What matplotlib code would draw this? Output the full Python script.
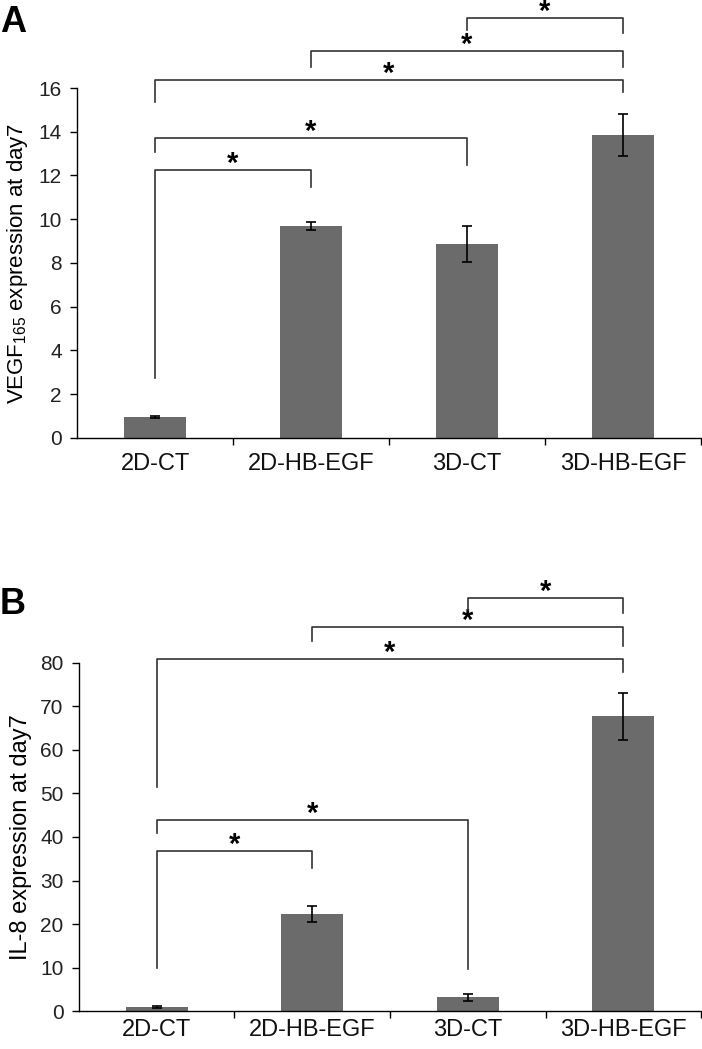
import numpy as np
import matplotlib
matplotlib.use('Agg')
import matplotlib.pyplot as plt

plt.rcParams['font.family'] = ['Liberation Sans', 'DejaVu Sans']

groups = ['2D-CT', '2D-HB-EGF', '3D-CT', '3D-HB-EGF']

vegf = [0.96, 9.70, 8.87, 13.85]
vegf_err = [0.04, 0.18, 0.82, 0.97]

il8 = [0.9, 22.3, 3.2, 67.7]
il8_err = [0.25, 1.8, 0.8, 5.3]

# significance brackets: (left group, right group, bar height, left drop, right drop)
vegf_sig = [(0, 1, 12.25, 2.74, 11.47),
            (0, 2, 13.71, 13.07, 12.48),
            (0, 3, 16.37, 15.36, 15.80),
            (1, 3, 17.69, 16.96, 16.96),
            (2, 3, 19.20, 18.65, 18.50)]
il8_sig = [(0, 1, 36.8, 9.9, 32.9),
           (0, 2, 43.9, 40.9, 9.6),
           (0, 3, 80.9, 51.5, 77.9),
           (1, 3, 88.3, 85.1, 83.9),
           (2, 3, 94.9, 92.2, 91.5)]

bar_color = '#6b6b6b'
line_color = '#333333'

fig = plt.figure(figsize=(7.02, 10.49), dpi=100)
ax1 = fig.add_axes([0.1097, 0.5825, 0.8889, 0.3336])
ax2 = fig.add_axes([0.1125, 0.0362, 0.8861, 0.3318])


def draw_panel(ax, vals, errs, sig, ymax, ystep, ylabel, ylab_size, xlab_pad):
    x = np.arange(len(groups))
    ax.bar(x, vals, width=0.4, color=bar_color, zorder=2)
    ax.errorbar(x, vals, yerr=errs, fmt='none', ecolor='black',
                elinewidth=1.2, capsize=3.5, capthick=1.2, zorder=3)
    ax.set_xlim(-0.5, 3.5)
    ax.set_ylim(0, ymax)
    ax.set_yticks(np.arange(0, ymax + 0.1, ystep))
    ax.set_xticks(x)
    ax.set_xticklabels(groups, fontsize=17, color='#111111')
    ax.set_xticks([0.5, 1.5, 2.5, 3.5], minor=True)
    ax.tick_params(axis='x', which='major', length=0, pad=xlab_pad)
    ax.tick_params(axis='x', which='minor', length=5, width=1, direction='out')
    ax.tick_params(axis='y', length=5, width=1, direction='out', pad=6,
                   labelsize=15, labelcolor='#222222')
    for s in ['top', 'right']:
        ax.spines[s].set_visible(False)
    for s in ['left', 'bottom']:
        ax.spines[s].set_linewidth(1)
    ax.set_ylabel(ylabel, fontsize=ylab_size, labelpad=6)

    for i, j, h, dl, dr in sig:
        ax.plot([i, i, j, j], [dl, h, h, dr], color=line_color, lw=1.2,
                clip_on=False, zorder=4)
        ax.annotate('*', xy=((i + j) / 2, h), xytext=(0, -1.5),
                    textcoords='offset points', ha='center', va='baseline',
                    fontsize=21, fontweight='bold', annotation_clip=False)


draw_panel(ax1, vegf, vegf_err, vegf_sig, 16, 2,
           r'VEGF$_{\mathregular{165}}$ expression at day7', 16, 11)
draw_panel(ax2, il8, il8_err, il8_sig, 80, 10,
           'IL-8 expression at day7', 17, 6)

fig.text(0.0, 0.995, 'A', fontsize=26, fontweight='bold', va='top', ha='left')
fig.text(0.0, 0.44, 'B', fontsize=26, fontweight='bold', va='top', ha='left')

fig.savefig('out.png', dpi=100)
